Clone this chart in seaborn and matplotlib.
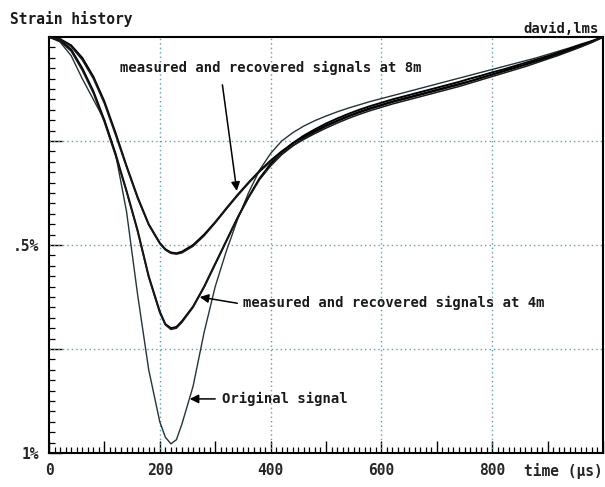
import matplotlib
matplotlib.use("Agg")
import matplotlib.pyplot as plt
import seaborn as sns
import pandas as pd
from matplotlib.ticker import MultipleLocator, FixedLocator

# ---------------- data (time in microseconds, strain in %) ----------------
time_us = [0, 20, 40, 60, 80, 100, 120, 140, 160, 180, 200, 210, 220, 230, 240,
           260, 280, 300, 320, 340, 360, 380, 400, 420, 440, 460, 480, 500, 520,
           540, 560, 580, 600, 620, 640, 660, 680, 700, 720, 740, 760, 780, 800,
           820, 840, 860, 880, 900, 920, 940, 960, 980, 1000]

original = [0.0, 0.012, 0.045, 0.10, 0.15, 0.20, 0.28, 0.42, 0.62, 0.80, 0.925,
            0.962, 0.978, 0.968, 0.93, 0.84, 0.71, 0.60, 0.515, 0.44, 0.375, 0.32,
            0.28, 0.25, 0.23, 0.214, 0.201, 0.19, 0.18, 0.171, 0.163, 0.155,
            0.148, 0.141, 0.134, 0.127, 0.12, 0.113, 0.106, 0.099, 0.092, 0.085,
            0.078, 0.071, 0.064, 0.057, 0.05, 0.042, 0.034, 0.026, 0.017, 0.009, 0.0]

measured_4m = [0.0, 0.008, 0.03, 0.075, 0.13, 0.20, 0.28, 0.37, 0.465, 0.575, 0.66,
               0.69, 0.70, 0.697, 0.683, 0.648, 0.60, 0.545, 0.49, 0.435, 0.385,
               0.34, 0.305, 0.277, 0.255, 0.237, 0.222, 0.208, 0.196, 0.185, 0.175,
               0.166, 0.158, 0.15, 0.143, 0.136, 0.129, 0.122, 0.115, 0.108, 0.10,
               0.093, 0.085, 0.078, 0.07, 0.062, 0.054, 0.046, 0.037, 0.028, 0.019,
               0.01, 0.0]

recovered_4m = [0.0, 0.01, 0.034, 0.08, 0.135, 0.205, 0.285, 0.372, 0.468, 0.578,
                0.663, 0.692, 0.703, 0.70, 0.686, 0.65, 0.602, 0.547, 0.492, 0.437,
                0.387, 0.343, 0.31, 0.283, 0.262, 0.244, 0.229, 0.215, 0.203, 0.192,
                0.182, 0.173, 0.165, 0.157, 0.15, 0.143, 0.136, 0.129, 0.122, 0.115,
                0.107, 0.099, 0.091, 0.083, 0.075, 0.067, 0.058, 0.05, 0.041, 0.031,
                0.021, 0.011, 0.0]

measured_8m = [0.0, 0.005, 0.02, 0.05, 0.095, 0.155, 0.23, 0.31, 0.385, 0.45, 0.495,
               0.51, 0.518, 0.52, 0.516, 0.50, 0.475, 0.445, 0.412, 0.38, 0.35,
               0.322, 0.297, 0.275, 0.256, 0.24, 0.226, 0.213, 0.201, 0.19, 0.18,
               0.171, 0.163, 0.155, 0.148, 0.141, 0.134, 0.127, 0.12, 0.113, 0.106,
               0.098, 0.09, 0.082, 0.074, 0.066, 0.058, 0.05, 0.041, 0.032, 0.022,
               0.012, 0.0]

recovered_8m = [0.0, 0.006, 0.023, 0.055, 0.10, 0.16, 0.235, 0.313, 0.388, 0.452,
                0.497, 0.512, 0.52, 0.522, 0.519, 0.503, 0.478, 0.447, 0.414, 0.382,
                0.352, 0.324, 0.30, 0.279, 0.261, 0.246, 0.232, 0.219, 0.207, 0.196,
                0.186, 0.177, 0.169, 0.161, 0.154, 0.147, 0.14, 0.133, 0.126, 0.119,
                0.111, 0.103, 0.095, 0.087, 0.079, 0.071, 0.062, 0.053, 0.044, 0.034,
                0.024, 0.013, 0.0]

x_tick_values = [0, 100, 200, 300, 400, 500, 600, 700, 800, 900, 1000]
x_tick_labels = ["0", "", "200", "", "400", "", "600", "", "800", "", ""]
y_tick_values = [0.0, 0.25, 0.5, 0.75, 1.0]
y_tick_labels = ["", "", ".5%", "", "1%"]
grid_x = [200, 400, 600, 800]
grid_y = [0.25, 0.5, 0.75]

title_text = "Strain history"
corner_text = "david,lms"
xlabel_text = "time (\u03bcs)"
label_8m = "measured and recovered signals at 8m"
label_4m = "measured and recovered signals at 4m"
label_orig = "Original signal"

# ---------------- build long table ----------------
series = {
    "original": original,
    "measured_4m": measured_4m,
    "recovered_4m": recovered_4m,
    "measured_8m": measured_8m,
    "recovered_8m": recovered_8m,
}
frames = []
for name, vals in series.items():
    frames.append(pd.DataFrame({"t": time_us, "strain": vals, "series": name}))
df = pd.concat(frames, ignore_index=True)

# ---------------- style ----------------
sns.set_style("white")
plt.rcParams["font.family"] = ["DejaVu Sans Mono", "DejaVu Sans"]
plt.rcParams["font.size"] = 10

fig = plt.figure(figsize=(6.05, 4.87), dpi=100)
ax = fig.add_axes([49 / 605, 1 - 453 / 487, (603 - 49) / 605, (453 - 37) / 487])

palette = {
    "original": "#23343a",
    "measured_4m": "black",
    "recovered_4m": "#1a1a1a",
    "measured_8m": "black",
    "recovered_8m": "#1a1a1a",
}
sizes = {
    "original": 1.0,
    "measured_4m": 1.4,
    "recovered_4m": 1.1,
    "measured_8m": 1.4,
    "recovered_8m": 1.1,
}
for name in series:
    sub = df[df["series"] == name]
    sns.lineplot(data=sub, x="t", y="strain", ax=ax, color=palette[name],
                 linewidth=sizes[name], legend=False, sort=False, zorder=3)

ax.set_xlim(0, 1000)
ax.set_ylim(1.0, 0.0)
ax.set_xlabel("")
ax.set_ylabel("")

# grid (dotted, bluish)
for gx in grid_x:
    ax.axvline(gx, color="#5f9fb3", linestyle=(0, (1, 2.2)), linewidth=1.0, zorder=1)
for gy in grid_y:
    ax.axhline(gy, color="#5f9fb3", linestyle=(0, (1, 2.2)), linewidth=1.0, zorder=1)

# ticks
ax.xaxis.set_major_locator(FixedLocator(x_tick_values))
ax.set_xticklabels(x_tick_labels)
ax.xaxis.set_minor_locator(MultipleLocator(10))
ax.yaxis.set_major_locator(FixedLocator(y_tick_values))
ax.set_yticklabels(y_tick_labels)
ax.yaxis.set_minor_locator(MultipleLocator(0.025))
ax.tick_params(axis="both", which="major", direction="in", length=9, width=1.0,
               color="black", labelsize=10.5, pad=7)
ax.tick_params(axis="both", which="minor", direction="in", length=4, width=0.9,
               color="black")
ax.tick_params(axis="x", which="both", bottom=True, top=False)
ax.tick_params(axis="y", which="both", left=True, right=False)
for lab in ax.get_xticklabels() + ax.get_yticklabels():
    lab.set_fontweight("bold")

for sp in ax.spines.values():
    sp.set_visible(True)
    sp.set_color("black")
    sp.set_linewidth(1.5)

# annotations
arrow = dict(arrowstyle="-|>", color="black", lw=1.1, mutation_scale=13,
             shrinkA=0, shrinkB=0)
ax.annotate("", xy=(339, 0.37), xytext=(313, 0.115), arrowprops=arrow, zorder=4)
ax.text(128, 0.075, label_8m, ha="left", va="center", fontsize=10,
        fontweight="bold", color="#1a1a1a", zorder=5)

ax.annotate("", xy=(272, 0.625), xytext=(340, 0.64), arrowprops=arrow, zorder=4)
ax.text(350, 0.64, label_4m, ha="left", va="center", fontsize=10,
        fontweight="bold", color="#1a1a1a", zorder=5)

ax.annotate("", xy=(254, 0.87), xytext=(300, 0.87), arrowprops=arrow, zorder=4)
ax.text(312, 0.87, label_orig, ha="left", va="center", fontsize=10,
        fontweight="bold", color="#1a1a1a", zorder=5)

# figure texts
fig.text(10 / 605, 1 - 19 / 487, title_text, ha="left", va="center", fontsize=10.5,
         fontweight="bold", color="#1a1a1a")
fig.text(599 / 605, 1 - 29 / 487, corner_text, ha="right", va="center", fontsize=10,
         fontweight="bold", color="#1a1a1a")
fig.text(603 / 605, 1 - 471 / 487, xlabel_text, ha="right", va="center", fontsize=10.5,
         fontweight="bold")

fig.savefig("out.png", dpi=100, facecolor="white")
